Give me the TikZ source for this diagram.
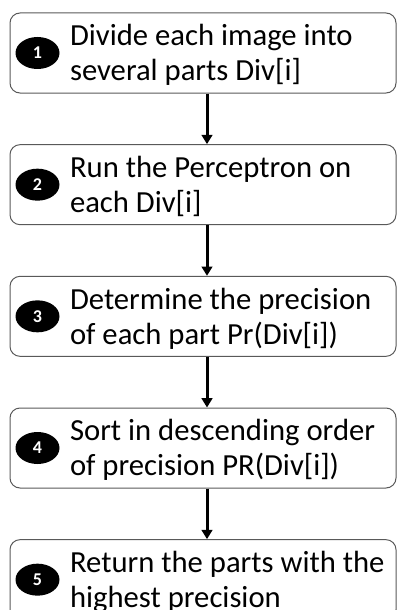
\documentclass[tikz,border=0pt]{standalone}
\usepackage{fontspec}
\setmainfont{Carlito}
\usetikzlibrary{positioning}
\usetikzlibrary{shapes.geometric}
\usetikzlibrary{arrows.meta}

\begin{document}
\begin{tikzpicture}[
  stepbox/.style={draw=black!65, line width=0.75pt, rounded corners=7.5pt, minimum width=289.5pt, minimum height=60pt, inner sep=0pt},
  badge/.style={ellipse, fill=black, minimum width=33pt, minimum height=24pt, inner sep=0pt, text=white, font=\fontsize{13.5}{13.5}\selectfont\bfseries},
  steptext/.style={inner sep=0pt, align=left, font=\fontsize{23}{26.25}\selectfont},
  flow/.style={-{Triangle[length=7pt,width=8pt]}, line width=2.25pt}
]
\useasboundingbox (0,0) rectangle (297.75pt,-457.5pt);
\clip (0,0) rectangle (297.75pt,-457.5pt);
\def\gap{38pt}
\def\shift{3pt}
% boxes
\node[stepbox] (B1) at (152.25pt,-39.75pt) {};
\node[stepbox, below=\gap of B1] (B2) {};
\node[stepbox, below=\gap of B2] (B3) {};
\node[stepbox, below=\gap of B3] (B4) {};
\node[stepbox, below=\gap of B4] (B5) {};
% numbers
\node[badge] (N1) at ([xshift=21pt]B1.west) {1};
\node[badge] (N2) at ([xshift=21pt]B2.west) {2};
\node[badge] (N3) at ([xshift=21pt]B3.west) {3};
\node[badge] (N4) at ([xshift=21pt]B4.west) {4};
\node[badge] (N5) at ([xshift=21pt]B5.west) {5};
% texts
\node[steptext, right=7.5pt of N1, yshift=-1.5pt] (T1) {Divide each image into\\several parts Div[i]};
\node[steptext, right=7.5pt of N2, yshift=-1.5pt] (T2) {Run the Perceptron on\\each Div[i]};
\node[steptext, right=7.5pt of N3, yshift=-1.5pt] (T3) {Determine the precision\\of each part Pr(Div[i])};
\node[steptext, right=7.5pt of N4, yshift=-1.5pt] (T4) {Sort in descending order\\of precision PR(Div[i])};
\node[steptext, right=7.5pt of N5, yshift=-1.5pt] (T5) {Return the parts with the\\highest precision};
% arrows
\draw[flow] ([xshift=\shift]B1.south) -- ([xshift=\shift]B2.north);
\draw[flow] ([xshift=\shift]B2.south) -- ([xshift=\shift]B3.north);
\draw[flow] ([xshift=\shift]B3.south) -- ([xshift=\shift]B4.north);
\draw[flow] ([xshift=\shift]B4.south) -- ([xshift=\shift]B5.north);
\end{tikzpicture}
\end{document}
